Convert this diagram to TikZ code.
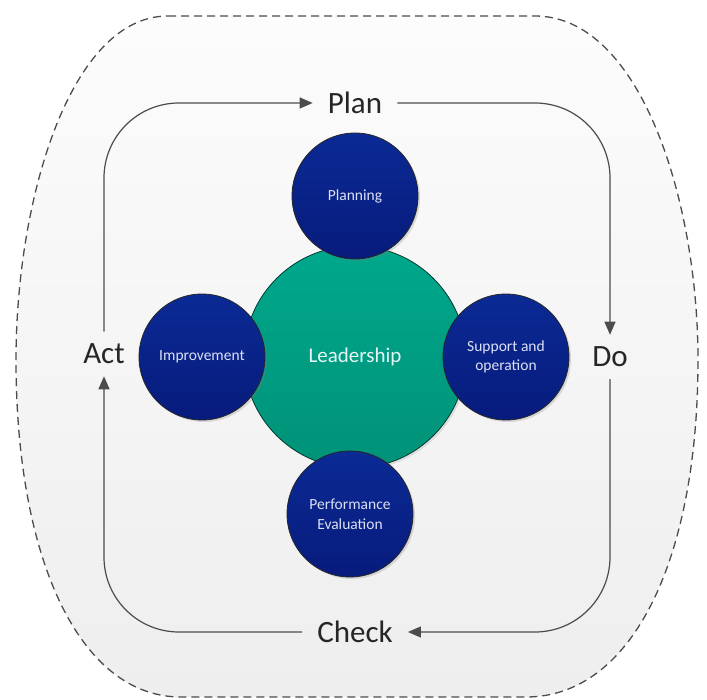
\documentclass[tikz,border=0pt]{standalone}
\usepackage{fontspec}
\setmainfont{Carlito}
\usetikzlibrary{arrows.meta,shadows}
\definecolor{blueTop}{HTML}{0B2A94}
\definecolor{blueBot}{HTML}{071B7C}
\definecolor{greenTop}{HTML}{00A88C}
\definecolor{greenBot}{HTML}{009278}
\definecolor{labelcol}{HTML}{DCE0F4}
\definecolor{bgTop}{HTML}{FCFCFC}
\definecolor{bgBot}{HTML}{EEEEEE}
\begin{document}
\begin{tikzpicture}[x=1pt,y=-1pt,
  pdca/.style={font=\fontsize{31}{33}\selectfont, text=black!85, inner xsep=15pt, inner ysep=12pt},
  cyc/.style={draw=black!70, line width=1.2pt, rounded corners=75pt, -{Triangle[length=13pt,width=11pt]}},
  bluecirc/.style={circle, minimum size=126pt, inner sep=0pt, draw=black!85, line width=0.8pt,
    top color=blueTop, bottom color=blueBot, text=labelcol, align=center,
    font=\fontsize{15.5}{19.5}\selectfont,
    drop shadow={opacity=0.25, shadow xshift=2pt, shadow yshift=-2pt}},
  leadcirc/.style={circle, minimum size=222pt, inner sep=0pt, draw=black!60!greenBot, line width=0.8pt,
    top color=greenTop, bottom color=greenBot, text=white!90!greenTop,
    font=\fontsize{21}{24}\selectfont,
    drop shadow={opacity=0.2, shadow xshift=2pt, shadow yshift=-2pt}},
  outer/.style={draw=black!70, line width=1.3pt, dash pattern=on 8pt off 5pt, top color=bgTop, bottom color=bgBot}
]
\useasboundingbox (0,0) rectangle (707,700);
% outer dashed boundary
\path[outer] (168,16) -- (535,16) .. controls (640,16) and (698,200) .. (698,360)
  .. controls (698,560) and (632,697) .. (526,697) -- (181,697)
  .. controls (80,697) and (16,560) .. (16,360)
  .. controls (16,200) and (70,16) .. (168,16) -- cycle;

% PDCA labels
\node[pdca] (plan) at (355,103) {Plan};
\node[pdca] (do) at (610,357) {Do};
\node[pdca] (check) at (355,632) {Check};
\node[pdca] (act) at (104,354) {Act};

% cycle connectors
\draw[cyc] (act.north) |- (plan.west);
\draw[cyc] (plan.east) -| (do.north);
\draw[cyc] (do.south) |- (check.east);
\draw[cyc] (check.west) -| (act.south);

% circles
\node[leadcirc] (lead) at (355,357) {Leadership};
\node[bluecirc] (planning) at (355,196) {Planning};
\node[bluecirc] (impr) at (202,357) {Improvement};
\node[bluecirc] (supp) at (506,357) {Support and\\operation};
\node[bluecirc] (perf) at (350,514) {Performance\\Evaluation};
\end{tikzpicture}
\end{document}
